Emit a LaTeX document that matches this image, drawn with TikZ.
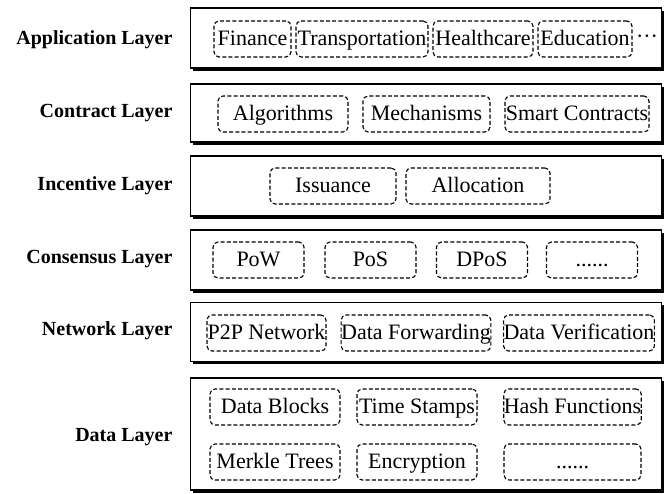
\documentclass[tikz,border=0pt]{standalone}
\usepackage{fontspec}
\setmainfont{Liberation Serif}
\usetikzlibrary{shadows}

\tikzset{
  layer/.style={draw, line width=1.6pt, fill=white, minimum width=471pt, inner sep=0pt,
    drop shadow={shadow xshift=2.4pt, shadow yshift=-2.6pt, opacity=1, fill=black}},
  layername/.style={anchor=east, font=\bfseries\fontsize{20}{24}\selectfont},
  item/.style={draw, dashed, dash pattern=on 4pt off 2.2pt, line width=1.1pt,
    rounded corners=5pt, minimum height=36pt, inner sep=0pt,
    text height=17pt, text depth=4pt, font=\fontsize{22}{24}\selectfont}
}

\begin{document}
\begin{tikzpicture}[x=1pt, y=-1pt]
  \useasboundingbox (0,0) rectangle (667,493);

  % layer frames
  \node[layer, minimum height=60pt]  (app)  at (426,38)  {};
  \node[layer, minimum height=58pt]  (con)  at (426,113) {};
  \node[layer, minimum height=60pt]  (inc)  at (426,186) {};
  \node[layer, minimum height=60pt]  (cons) at (426,260) {};
  \node[layer, minimum height=59pt]  (net)  at (426,332) {};
  \node[layer, minimum height=112pt] (data) at (426,434) {};

  % layer names
  \node[layername] (appname)  at (176,40)  {Application Layer};
  \node[layername] (conname)  at (176,113) {Contract Layer};
  \node[layername] (incname)  at (176,186) {Incentive Layer};
  \node[layername] (consname) at (176,259) {Consensus Layer};
  \node[layername] (netname)  at (176,331) {Network Layer};
  \node[layername] (dataname) at (176,437) {Data Layer};

  % application
  \node[item, minimum width=77pt]  (fin)   at (252.5,39) {Finance};
  \node[item, minimum width=132pt] (trans) at (362,39)   {Transportation};
  \node[item, minimum width=100pt] (hc)    at (483,39)   {Healthcare};
  \node[item, minimum width=94pt]  (edu)   at (585,39)   {Education};
  \node[font=\fontsize{22}{24}\selectfont] (appmore) at (647,39) {···};

  % contract
  \node[item, minimum width=130pt] (algo)  at (283,114)   {Algorithms};
  \node[item, minimum width=127pt] (mech)  at (426.5,114) {Mechanisms};
  \node[item, minimum width=144pt] (smart) at (577,114)   {Smart Contracts};

  % incentive
  \node[item, minimum width=126pt] (iss)   at (333,186) {Issuance};
  \node[item, minimum width=144pt] (alloc) at (478,186) {Allocation};

  % consensus
  \node[item, minimum width=91pt] (pow)  at (258.5,260) {PoW};
  \node[item, minimum width=91pt] (pos)  at (370.5,260) {PoS};
  \node[item, minimum width=91pt] (dpos) at (482,260)   {DPoS};
  \node[item, minimum width=91pt] (consmore) at (592,260) {......};

  % network
  \node[item, minimum width=119pt] (p2p) at (266.5,333) {P2P Network};
  \node[item, minimum width=148pt] (fwd) at (416,333)   {Data Forwarding};
  \node[item, minimum width=148pt] (ver) at (579,333)   {Data Verification};

  % data
  \node[item, minimum width=130pt] (blocks) at (275,407)   {Data Blocks};
  \node[item, minimum width=120pt] (stamps) at (417,407)   {Time Stamps};
  \node[item, minimum width=137pt] (hash)   at (572.5,407) {Hash Functions};
  \node[item, minimum width=130pt] (merkle) at (275,462)   {Merkle Trees};
  \node[item, minimum width=120pt] (enc)    at (417,462)   {Encryption};
  \node[item, minimum width=137pt] (datamore) at (572.5,462) {......};
\end{tikzpicture}
\end{document}
